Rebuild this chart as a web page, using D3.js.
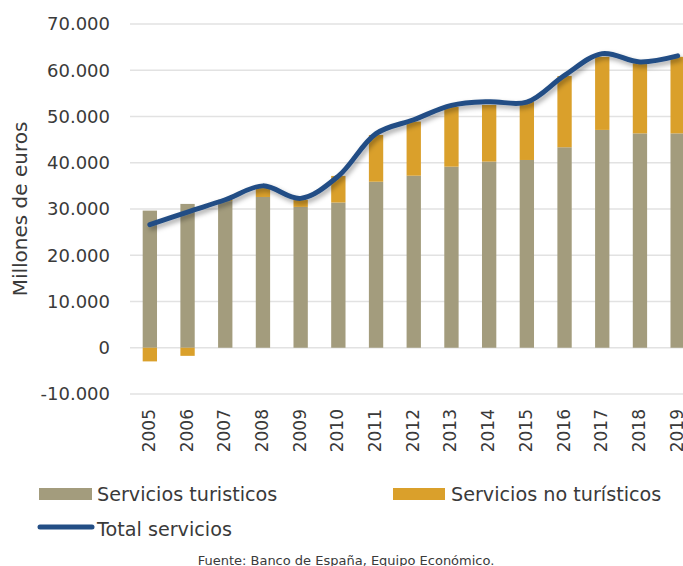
<!DOCTYPE html>
<html>
<head>
<meta charset="utf-8">
<script src="https://cdn.jsdelivr.net/npm/d3@7"></script>
<style>
  body { margin: 0; background: #fff; }
  svg { display: block; font-family: "DejaVu Sans", "Lato", sans-serif; }
</style>
</head>
<body>
<svg id="chart" width="683" height="566"></svg>
<script>
const years = ["2005","2006","2007","2008","2009","2010","2011","2012","2013","2014","2015","2016","2017","2018","2019"];
const turisticos = [29650, 31100, 31700, 32600, 30450, 31400, 35900, 37200, 39150, 40250, 40600, 43350, 47100, 46350, 46350];
const noTuristicos = [-2950, -1750, 300, 2200, 1550, 5750, 10100, 11700, 12950, 12250, 12600, 15400, 15800, 15150, 16550];
const totalServicios = [26600, 29350, 32000, 35000, 32300, 37100, 46300, 49300, 52400, 53200, 53100, 58900, 63600, 61800, 63100];
const yTicks = [-10000, 0, 10000, 20000, 30000, 40000, 50000, 60000, 70000];

const svg = d3.select('#chart');
const colors = { tur: '#a39c7d', noTur: '#daa02b', total: '#234e85', text: '#3a3a3a' };

let x = d3.scaleBand()
    .domain(years)
    .range([131, 696.5])
    .paddingInner(0.62)
    .paddingOuter(0.31);

let y = d3.scaleLinear()
    .domain([-10000, 70000])
    .range([394, 24]);

// spanish style: dots for thousands, plain hyphen for minus
let fmt = d => d3.format(",")(d).replace(/,/g, '.').replace('\u2212', '-');

// gridlines + y labels
svg.append('g')
    .selectAll('line')
    .data(yTicks)
    .enter().append('line')
    .attr('x1', 130).attr('x2', 683)
    .attr('y1', d => y(d)).attr('y2', d => y(d))
    .attr('stroke', '#e2e2e2')
    .attr('stroke-width', 1.5);

svg.append('g')
    .selectAll('text')
    .data(yTicks)
    .enter().append('text')
    .attr('x', 110)
    .attr('y', d => y(d))
    .attr('dy', '0.35em')
    .attr('text-anchor', 'end')
    .attr('font-size', 18)
    .attr('fill', colors.text)
    .text(fmt);

svg.append('text')
    .attr('transform', 'translate(27,209) rotate(-90)')
    .attr('text-anchor', 'middle')
    .attr('font-size', 20)
    .attr('fill', colors.text)
    .text('Millones de euros');

// bars
let bars = svg.append('g');
bars.selectAll('.tur')
    .data(turisticos)
    .enter().append('rect')
    .attr('x', (d, i) => x(years[i]))
    .attr('width', x.bandwidth())
    .attr('y', d => y(d))
    .attr('height', d => y(0) - y(d))
    .attr('fill', colors.tur);

bars.selectAll('.noTur')
    .data(noTuristicos)
    .enter().append('rect')
    .attr('x', (d, i) => x(years[i]))
    .attr('width', x.bandwidth())
    .attr('y', (d, i) => d >= 0 ? y(turisticos[i] + d) : y(0))
    .attr('height', (d, i) => d >= 0 ? y(turisticos[i]) - y(turisticos[i] + d) : y(d) - y(0))
    .attr('fill', colors.noTur);

// x labels
svg.append('g')
    .selectAll('text')
    .data(years)
    .enter().append('text')
    .attr('transform', d => `translate(${x(d) + x.bandwidth() / 2 + 5},409) rotate(-90)`)
    .attr('text-anchor', 'end')
    .attr('font-size', 17)
    .attr('fill', colors.text)
    .text(d => d);

// total line with shadow
let defs = svg.append('defs');
defs.append('filter')
    .attr('id', 'shadow')
    .attr('x', '-10%').attr('y', '-10%')
    .attr('width', '120%').attr('height', '130%')
    .append('feDropShadow')
    .attr('dx', 2).attr('dy', 3)
    .attr('stdDeviation', 2.5)
    .attr('flood-color', '#000')
    .attr('flood-opacity', 0.35);

let line = d3.line()
    .x((d, i) => x(years[i]) + x.bandwidth() / 2)
    .y(d => y(d))
    .curve(d3.curveCatmullRom.alpha(0.5));

svg.append('path')
    .datum(totalServicios)
    .attr('d', line)
    .attr('fill', 'none')
    .attr('stroke', colors.total)
    .attr('stroke-width', 5)
    .attr('stroke-linecap', 'round')
    .attr('filter', 'url(#shadow)');

// legend
let legend = svg.append('g').attr('font-size', 19.2).attr('fill', colors.text);
legend.append('rect').attr('x', 39).attr('y', 488).attr('width', 53).attr('height', 12).attr('fill', colors.tur);
legend.append('text').attr('x', 97).attr('y', 501).text('Servicios turisticos');
legend.append('rect').attr('x', 393).attr('y', 488).attr('width', 52).attr('height', 12).attr('fill', colors.noTur);
legend.append('text').attr('x', 451).attr('y', 501).text('Servicios no turísticos');
legend.append('line').attr('x1', 40).attr('x2', 92).attr('y1', 527).attr('y2', 527)
    .attr('stroke', colors.total).attr('stroke-width', 5).attr('stroke-linecap', 'round');
legend.append('text').attr('x', 97).attr('y', 536).text('Total servicios');

svg.append('text')
    .attr('x', 346).attr('y', 565)
    .attr('text-anchor', 'middle')
    .attr('font-size', 13)
    .attr('fill', colors.text)
    .text('Fuente: Banco de España, Equipo Económico.');
</script>
</body>
</html>
